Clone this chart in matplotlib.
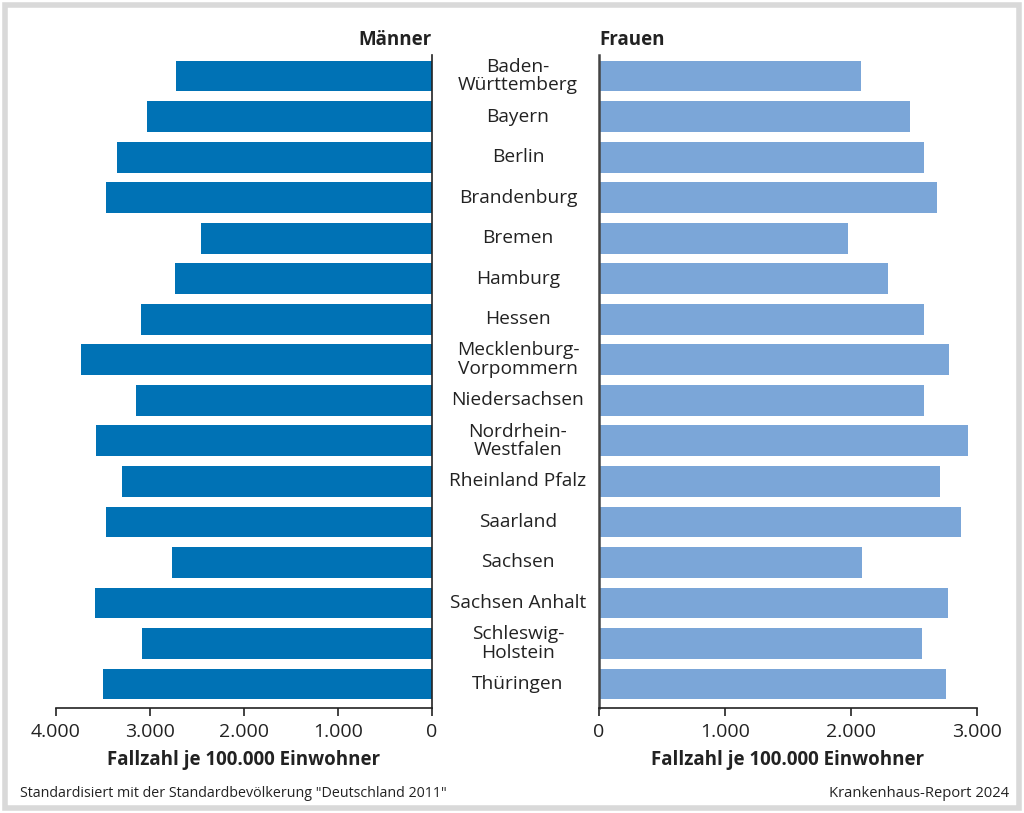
import matplotlib.pyplot as plt
from matplotlib.patches import Rectangle
from matplotlib.ticker import FuncFormatter

states = ["Baden-\nWürttemberg", "Bayern", "Berlin", "Brandenburg", "Bremen", "Hamburg",
          "Hessen", "Mecklenburg-\nVorpommern", "Niedersachsen", "Nordrhein-\nWestfalen",
          "Rheinland Pfalz", "Saarland", "Sachsen", "Sachsen Anhalt", "Schleswig-\nHolstein",
          "Thüringen"]
maenner = [2720, 3030, 3350, 3470, 2460, 2730, 3100, 3730, 3150, 3570, 3300, 3470, 2770, 3590, 3090, 3500]
frauen = [2080, 2470, 2580, 2680, 1980, 2290, 2580, 2780, 2580, 2930, 2710, 2870, 2090, 2770, 2560, 2750]
left_ticks = [0, 1000, 2000, 3000, 4000]
right_ticks = [0, 1000, 2000, 3000]

FONT = "Open Sans"
plt.rcParams['font.family'] = [FONT, 'DejaVu Sans']

W, H = 1024, 813
fig = plt.figure(figsize=(W / 100, H / 100), dpi=100)

# frame
fig.patches.append(Rectangle((5 / W, 5 / H), 1 - 10 / W, 1 - 10 / H, transform=fig.transFigure,
                             fill=False, edgecolor='#d9d9d9', linewidth=4))

top, bottom = 55, 708
axL = fig.add_axes([56 / W, 1 - bottom / H, (432 - 56) / W, (bottom - top) / H])
axR = fig.add_axes([599 / W, 1 - bottom / H, (977 - 599) / W, (bottom - top) / H])

y = list(range(len(states)))
fmt = FuncFormatter(lambda v, p: f"{int(v):,}".replace(",", "."))

axL.barh(y, maenner, height=0.76, color='#0072b5')
axL.set_xlim(4000, 0)
axR.barh(y, frauen, height=0.76, color='#7ba6d8')
axR.set_xlim(0, 3000)

for ax, ticks in ((axL, left_ticks), (axR, right_ticks)):
    ax.set_ylim(15.59, -0.52)
    ax.set_yticks([])
    ax.set_xticks(ticks)
    ax.xaxis.set_major_formatter(fmt)
    ax.spines['top'].set_visible(False)
    ax.tick_params(axis='x', length=6, width=1.2, color='#222222', labelsize=14, pad=5,
                   labelcolor='#222222')
    ax.spines['bottom'].set_color('#222222')
    ax.spines['bottom'].set_linewidth(1.2)
    ax.set_xlabel("Fallzahl je 100.000 Einwohner", fontsize=13.5, fontweight='bold',
                  color='#222222', labelpad=6)

axL.spines['left'].set_visible(False)
axL.spines['right'].set_color('#222222')
axL.spines['right'].set_linewidth(1.2)
axR.spines['right'].set_visible(False)
axR.spines['left'].set_color('#444444')
axR.spines['left'].set_linewidth(1.8)

# category labels in the middle
for i, s in enumerate(states):
    axL.annotate(s, xy=(1.2287, i), xycoords=('axes fraction', 'data'), ha='center', va='center',
                 fontsize=13.8, color='#222222', linespacing=1.05, annotation_clip=False)

fig.text(432 / W, 1 - 40 / H, "Männer", ha='right', va='center', fontsize=13.5, fontweight='bold',
         color='#222222')
fig.text(599 / W, 1 - 40 / H, "Frauen", ha='left', va='center', fontsize=13.5, fontweight='bold',
         color='#222222')
fig.text(20 / W, 1 - 793 / H, 'Standardisiert mit der Standardbevölkerung "Deutschland 2011"',
         ha='left', va='center', fontsize=10.3, color='#222222')
fig.text(1009 / W, 1 - 793 / H, "Krankenhaus-Report 2024", ha='right', va='center', fontsize=10.6,
         color='#222222')

fig.savefig("out.png", dpi=100)
